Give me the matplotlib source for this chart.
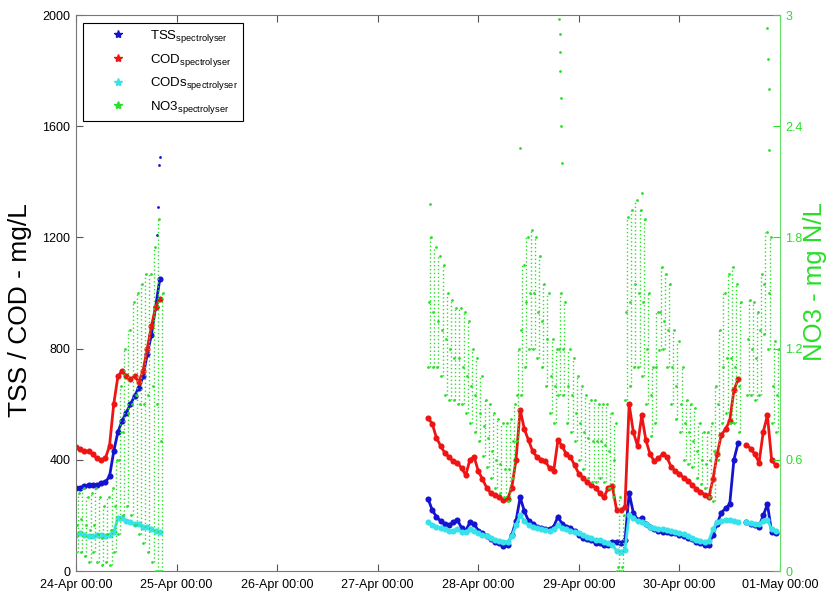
import numpy as np
import pandas as pd
import matplotlib
matplotlib.use("Agg")
import matplotlib.pyplot as plt
import matplotlib.dates as mdates
from matplotlib.lines import Line2D

plt.rcParams["font.family"] = ["Liberation Sans", "DejaVu Sans"]
plt.rcParams["mathtext.fontset"] = "custom"
plt.rcParams["mathtext.rm"] = "Liberation Sans"
plt.rcParams["mathtext.default"] = "regular"

START = pd.Timestamp("2013-04-24 00:00")

# ---- run 1: hourly readings from 24-Apr 00:00 ----
hours_a = list(range(0, 21))
tss_a = [300, 300, 305, 310, 310, 310, 315, 320, 340, 430, 500, 540, 570, 600,
         630, 660, 700, 780, 850, 950, 1050]
cod_a = [445, 440, 430, 430, 420, 405, 400, 405, 450, 600, 700, 720, 700, 690,
         700, 680, 720, 800, 880, 950, 980]
cods_a = [130, 135, 130, 125, 125, 130, 128, 125, 130, 140, 190, 190, 180, 175,
          170, 168, 160, 160, 150, 145, 140]
no3_lo_a = [0.10, 0.10, 0.08, 0.05, 0.10, 0.05, 0.03, 0.05, 0.03, 0.10, 0.20,
            0.30, 0.35, 0.30, 0.25, 0.20, 0.15, 0.10, 0.05, 0.00, 0.00]
no3_mid_a = [0.25, 0.28, 0.25, 0.22, 0.25, 0.20, 0.18, 0.20, 0.22, 0.35, 0.60,
             0.75, 0.85, 0.90, 0.95, 0.90, 0.90, 0.95, 1.00, 0.90, 0.70]
no3_hi_a = [0.42, 0.45, 0.40, 0.42, 0.45, 0.40, 0.35, 0.40, 0.45, 0.60, 1.00,
            1.20, 1.30, 1.45, 1.50, 1.55, 1.60, 1.60, 1.75, 1.90, 1.50]

# ---- run 2: hourly readings from 27-Apr 12:00 to 30-Apr 23:00 ----
hours_b = list(range(84, 168))
nan = float("nan")
tss_b = [260, 220, 195, 180, 170, 165, 175, 185, 155, 145, 175, 170, 145, 135,
         125, 115, 105, 100, 90, 95, 130, 180, 265, 215, 180, 170, 160, 155,
         150, 150, 160, 195, 170, 160, 155, 145, 130, 120, 115, 110, 100, 100,
         95, 95, 105, 105, 100, 110, 280, 210, 185, 190, 170, 160, 150, 145,
         140, 140, 135, 135, 130, 125, 120, 115, 105, 100, 95, 95, 130, 170,
         210, 225, 240, 400, 460, nan, 175, 170, 165, 160, 200, 240, 140, 135]
cod_b = [550, 530, 480, 450, 425, 410, 395, 390, 370, 345, 400, 410, 360, 330,
         300, 280, 272, 265, 255, 260, 300, 400, 580, 510, 470, 430, 410, 400,
         395, 370, 360, 470, 450, 420, 410, 380, 350, 335, 320, 310, 300, 280,
         265, 300, 305, 220, 220, 230, 600, 500, 450, 560, 470, 420, 395, 405,
         420, 410, 375, 360, 350, 335, 325, 310, 295, 285, 275, 265, 330, 420,
         490, 510, 540, 650, 690, nan, 455, 440, 420, 390, 500, 560, 400, 380]
cods_b = [175, 165, 160, 155, 150, 145, 145, 150, 140, 140, 150, 145, 135, 130,
          125, 120, 112, 108, 105, 105, 125, 165, 200, 180, 165, 160, 155, 150,
          148, 145, 150, 165, 155, 150, 145, 140, 135, 128, 122, 118, 112, 110,
          105, 100, 95, 72, 70, 75, 200, 190, 180, 175, 168, 160, 155, 150,
          150, 148, 145, 140, 138, 132, 125, 120, 112, 108, 105, 108, 150, 175,
          180, 185, 185, 180, 175, nan, 175, 172, 170, 168, 180, 185, 150, 145]
no3_lo_b = [1.10, 1.10, 1.10, 1.05, 0.95, 0.92, 0.92, 0.90, 0.90, 0.85, 0.80,
            0.75, 0.70, 0.62, 0.56, 0.50, 0.45, 0.42, 0.40, 0.38, 0.50, 0.70,
            0.95, 1.10, 1.20, 1.20, 1.15, 1.10, 1.00, 0.85, 0.80, 0.95, 0.95,
            0.80, 0.75, 0.70, 0.60, 0.55, 0.50, 0.48, 0.48, 0.50, 0.48, 0.45,
            0.40, 0.00, 0.00, 0.92, 1.00, 1.10, 1.10, 1.05, 0.90, 0.73, 0.80,
            1.19, 1.20, 1.10, 0.90, 0.82, 0.75, 0.60, 0.58, 0.56, 0.50, 0.47,
            0.45, 0.40, 0.38, 0.60, 0.80, 0.85, 0.80, 0.80, 0.75, nan, 0.95,
            0.95, 0.92, 0.95, 1.28, 1.20, 0.80, 0.75]
no3_mid_b = [1.45, 1.40, 1.35, 1.30, 1.25, 1.20, 1.15, 1.15, 1.10, 1.05, 1.00,
             0.95, 0.85, 0.78, 0.72, 0.65, 0.60, 0.58, 0.55, 0.55, 0.70, 0.95,
             1.30, 1.45, 1.50, 1.50, 1.40, 1.35, 1.25, 1.05, 1.00, 1.20, 1.20,
             1.00, 0.95, 0.85, 0.80, 0.75, 0.72, 0.70, 0.70, 0.70, 0.68, 0.65,
             0.60, 0.02, 0.02, 1.40, 1.45, 1.55, 1.50, 1.45, 1.20, 0.95, 1.10,
             1.40, 1.35, 1.30, 1.10, 1.00, 0.90, 0.80, 0.75, 0.70, 0.65, 0.60,
             0.58, 0.60, 0.65, 0.90, 1.10, 1.15, 1.15, 1.10, 1.00, nan, 1.25,
             1.20, 1.15, 1.30, 1.55, 1.50, 1.00, 0.95]
no3_hi_b = [1.80, 1.75, 1.70, 1.65, 1.50, 1.46, 1.42, 1.42, 1.40, 1.35, 1.20,
            1.15, 1.05, 0.92, 0.90, 0.85, 0.82, 0.80, 0.80, 0.82, 0.90, 1.20,
            1.65, 1.80, 1.84, 1.80, 1.70, 1.55, 1.50, 1.25, 1.20, 1.50, 1.45,
            1.20, 1.15, 1.05, 1.00, 0.95, 0.92, 0.92, 0.90, 0.90, 0.90, 0.85,
            0.80, 0.40, 0.30, 1.91, 1.95, 2.00, 1.95, 1.90, 1.50, 1.10, 1.40,
            1.64, 1.60, 1.55, 1.30, 1.24, 1.10, 0.92, 0.90, 0.88, 0.80, 0.75,
            0.75, 0.80, 1.00, 1.30, 1.50, 1.60, 1.64, 1.55, 1.45, nan, 1.46,
            1.45, 1.40, 1.60, 1.83, 1.80, 1.24, 1.20]

# isolated high readings
tss_spike_hours = [19.3, 19.6, 19.8, 20.1]
tss_spike_vals = [1210, 1310, 1460, 1490]
no3_spike_hours = [84.5, 105.9, 115.3, 115.4, 115.5, 115.6, 115.7, 115.8,
                   115.9, 135.0, 165.0, 165.2, 165.3, 165.4]
no3_spike_vals = [1.98, 2.28, 2.98, 2.90, 2.80, 2.70, 2.55, 2.40, 2.20, 2.04,
                  2.93, 2.76, 2.60, 2.27]

left_ticks = [0, 400, 800, 1200, 1600, 2000]
right_ticks = [0, 0.6, 1.2, 1.8, 2.4, 3.0]
right_tick_labels = ["0", "0.6", "1.2", "1.8", "2.4", "3"]

C_TSS, C_COD, C_CODS, C_NO3 = "#1414d0", "#ee1414", "#38e2ea", "#2ade2a"


def to_time(hours, offset=0.0):
    return [START + pd.Timedelta(hours=h + offset) for h in hours]


fig = plt.figure(figsize=(8.34, 5.96), dpi=100)
ax = fig.add_axes([76 / 834, 1 - 571 / 596, 704 / 834, 556 / 596])
ax2 = ax.twinx()

band = dict(ls="-", lw=2.0, marker="o", ms=4.4, mew=0, solid_capstyle="round")
for hrs, tss, cod, cods in ((hours_a, tss_a, cod_a, cods_a),
                            (hours_b, tss_b, cod_b, cods_b)):
    t = to_time(hrs)
    ax.plot(t, tss, color=C_TSS, **band)
    ax.plot(t, cod, color=C_COD, **band)
    ax.plot(t, cods, color=C_CODS, **band)
ax.plot(to_time(tss_spike_hours), tss_spike_vals, color=C_TSS, ls="none",
        marker="o", ms=2, mew=0)

pt = dict(ls="none", marker="o", ms=2, mew=0, color=C_NO3)
for hrs, lo, mid, hi in ((hours_a, no3_lo_a, no3_mid_a, no3_hi_a),
                         (hours_b, no3_lo_b, no3_mid_b, no3_hi_b)):
    ax2.vlines(to_time(hrs, 0.5), lo, hi, colors=C_NO3, linewidth=1.0,
               linestyles=(0, (1.0, 1.8)))
    ax2.plot(to_time(hrs, 0.1), lo, **pt)
    ax2.plot(to_time(hrs, 0.3), mid, **pt)
    ax2.plot(to_time(hrs, 0.8), hi, **pt)
ax2.plot(to_time(no3_spike_hours), no3_spike_vals, **pt)

ax.set_xlim(START, START + pd.Timedelta(days=7))
ax.set_ylim(0, 2000)
ax2.set_ylim(0, 3)
ax.xaxis.set_major_locator(mdates.DayLocator())
ax.xaxis.set_major_formatter(mdates.DateFormatter("%d-%b %H:%M"))
ax.set_yticks(left_ticks)
ax2.set_yticks(right_ticks)
ax2.set_yticklabels(right_tick_labels)

ax.tick_params(direction="in", length=5, width=0.8, top=True, right=False,
               labelsize=9, colors="#555555", labelcolor="black", pad=4)
ax.tick_params(axis="x", pad=6)
ax2.tick_params(direction="in", length=5, width=0.8, colors=C_NO3,
                labelcolor=C_NO3, labelsize=9, pad=4)
for s in ("left", "bottom", "top"):
    ax.spines[s].set_color("#777777")
    ax2.spines[s].set_visible(False)
ax.spines["right"].set_visible(False)
ax2.spines["right"].set_color("#66dd66")

ax.set_ylabel("TSS / COD - mg/L", fontsize=19)
ax.yaxis.set_label_coords(-0.062, 0.47)
ax2.set_ylabel("NO3 - mg N/L", fontsize=18.5, color=C_NO3)
ax2.yaxis.set_label_coords(1.033, 0.52)

handles = [Line2D([], [], ls="none", marker="*", ms=6, color=c)
           for c in (C_TSS, C_COD, C_CODS, C_NO3)]
labels = [r"TSS$_{spectrolyser}$", r"COD$_{spectrolyser}$",
          r"CODs$_{spectrolyser}$", r"NO3$_{spectrolyser}$"]
leg = ax2.legend(handles, labels, loc="upper left", bbox_to_anchor=(0.01, 0.986),
                 borderaxespad=0, fancybox=False, framealpha=1, edgecolor="black",
                 fontsize=9.5, handlelength=4.5, handletextpad=0.15,
                 labelspacing=0.5, borderpad=0.4)
leg.get_frame().set_linewidth(0.8)

fig.savefig("out.png", dpi=100)
